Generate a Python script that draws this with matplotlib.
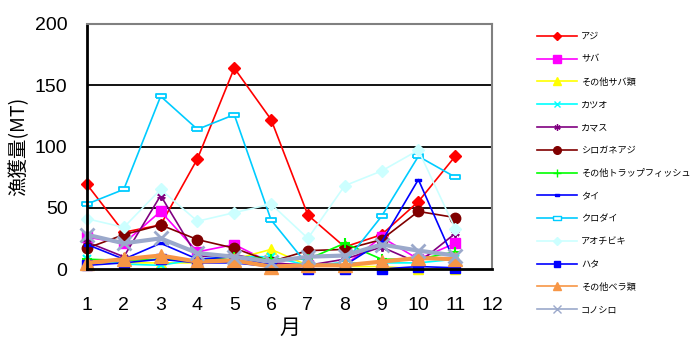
import matplotlib.pyplot as plt
from matplotlib.path import Path

plt.rcParams['font.family'] = ['Liberation Sans', 'Noto Sans CJK JP', 'DejaVu Sans']

months = [1, 2, 3, 4, 5, 6, 7, 8, 9, 10, 11]

aji = [69, 30, 36, 90, 164, 122, 44, 18, 28, 55, 92]
saba = [26, 21, 47, 14, 20, 5, 3, 3, 26, 8, 21]
other_saba = [5, 5, 5, 5, 8, 16, 3, 2, 2, 0, 0]
katsuo = [8, 4, 3, 8, 10, 10, 3, 5, 5, 5, 8]
kamasu = [22, 10, 60, 10, 12, 5, 3, 8, 18, 5, 29]
shirogane = [17, 28, 36, 24, 17, 6, 15, 16, 24, 47, 42]
trap_fish = [8, 7, 8, 7, 10, 8, 8, 21, 8, 8, 14]
tai = [20, 8, 21, 8, 10, 3, 3, 3, 22, 73, 5]
kurodai = [53, 65, 141, 114, 126, 40, 3, 5, 43, 92, 75]
aotachibiki = [41, 34, 65, 39, 46, 53, 25, 68, 80, 97, 33]
hata = [3, 5, 8, 5, 5, 2, 0, 0, 0, 2, 1]
other_bera = [5, 8, 11, 6, 7, 2, 3, 3, 6, 9, 8]
konoshiro = [28, 21, 25, 13, 10, 6, 10, 11, 20, 15, 11]

rect = Path([(-1, -0.5), (1, -0.5), (1, 0.5), (-1, 0.5), (-1, -0.5)])

series = [
    ('アジ', aji, '#FF0000', 'D', 6, 1.2),
    ('サバ', saba, '#FF00FF', 's', 7, 1.2),
    ('その他サバ類', other_saba, '#FFFF00', '^', 7, 1.2),
    ('カツオ', katsuo, '#00FFFF', 'x', 6, 1.2),
    ('カマス', kamasu, '#800080', (6, 2, 0), 6, 1.2),
    ('シロガネアジ', shirogane, '#800000', 'o', 7.5, 1.2),
    ('その他トラップフィッシュ', trap_fish, '#00FF00', '+', 7, 1.2),
    ('タイ', tai, '#0000FF', rect, 4, 1.2),
    ('クロダイ', kurodai, '#00CCFF', rect, 7, 1.2),
    ('アオチビキ', aotachibiki, '#CCFFFF', 'D', 6, 1.2),
    ('ハタ', hata, '#0000FF', 's', 6.5, 1.2),
    ('その他ベラ類', other_bera, '#F79646', '^', 10, 3),
    ('コノシロ', konoshiro, '#9BA9CB', 'x', 10, 3),
]

fig = plt.figure(figsize=(6.99, 3.38), dpi=100)
ax = fig.add_axes([87 / 699, 69 / 338, 405 / 699, 245 / 338])

for label, vals, color, marker, ms, lw in series:
    kw = dict(color=color, marker=marker, markersize=ms, linewidth=lw,
              label=label, clip_on=False)
    if label == 'クロダイ':
        kw.update(markerfacecolor='white', markeredgewidth=1.3)
    elif marker in ('x', '+') or isinstance(marker, tuple):
        kw.update(markeredgewidth=1.5 if lw < 2 else 2)
    ax.plot(months, vals, **kw)

ax.set_xlim(1, 12)
ax.set_ylim(0, 200)
ax.set_xticks(range(1, 13))
ax.set_yticks([0, 50, 100, 150, 200])
ax.tick_params(axis='both', length=0, labelsize=14)
ax.tick_params(axis='x', pad=20)
ax.tick_params(axis='y', pad=14)
for y in [50, 100, 150]:
    ax.axhline(y, color='black', linewidth=1.3, zorder=0)

ax.spines['left'].set_linewidth(2)
ax.spines['bottom'].set_linewidth(2)
ax.spines['top'].set_color('#808080')
ax.spines['right'].set_color('#808080')
ax.spines['top'].set_linewidth(1.5)
ax.spines['right'].set_linewidth(1.5)

ax.set_ylabel('漁獲量(MT)', fontsize=14, family=['Noto Sans CJK JP'], labelpad=4)
ax.set_xlabel('月', fontsize=15, family=['Noto Sans CJK JP'], labelpad=2)

leg = fig.legend(loc='upper left', bbox_to_anchor=(537 / 699, 1 - 32 / 338),
                 frameon=False, prop={'family': 'Noto Sans CJK JP', 'size': 6.6},
                 handlelength=4.4, labelspacing=1.5, handletextpad=0.4,
                 borderaxespad=0, borderpad=0)
for h in leg.legend_handles:
    h.set_markersize(min(h.get_markersize() * 0.75, 5.5))
    h.set_markeredgewidth(1)
    h.set_linewidth(1.2)

fig.savefig('out.png', dpi=100)
